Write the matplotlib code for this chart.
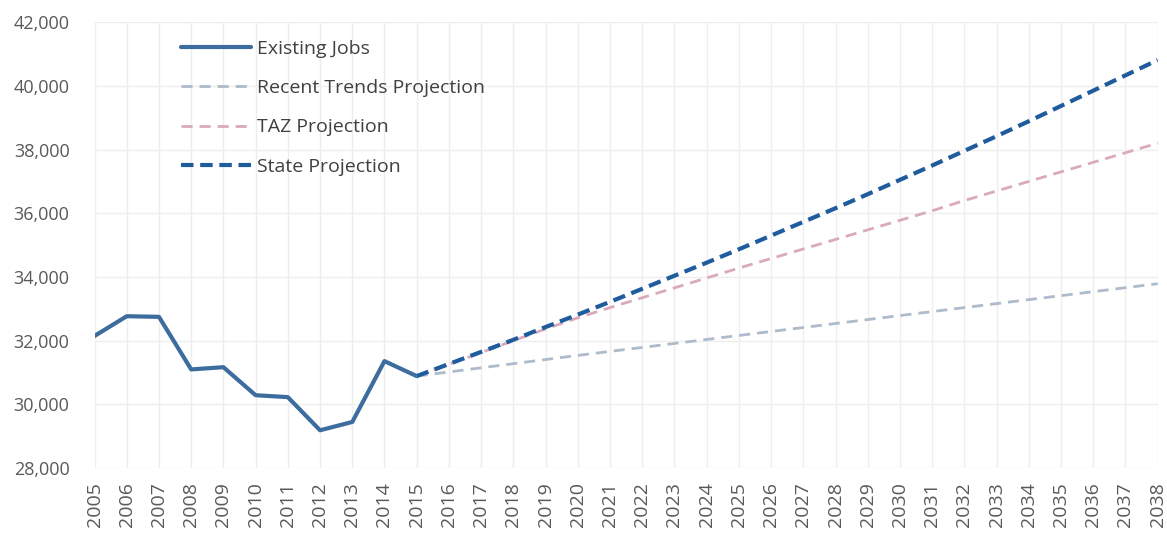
import matplotlib
matplotlib.use("Agg")
import matplotlib.pyplot as plt

plt.rcParams['font.family'] = ['Open Sans', 'DejaVu Sans']

# existing jobs, 2005-2015
hist_years = list(range(2005, 2016))
existing_jobs = [32150, 32770, 32750, 31100, 31170, 30290, 30230, 29190, 29450, 31360, 30890]

# projections, 2015-2038
proj_years = list(range(2015, 2039))
recent_trends = [30890, 31020, 31150, 31280, 31410, 31540, 31665, 31790, 31915, 32040, 32165, 32290,
                 32415, 32540, 32665, 32790, 32915, 33040, 33165, 33290, 33415, 33540, 33665, 33790]
taz_proj = [30890, 31260, 31630, 32000, 32370, 32720, 33040, 33350, 33660, 33970, 34280, 34580,
            34880, 35180, 35480, 35780, 36080, 36400, 36700, 37000, 37300, 37600, 37900, 38200]
state_proj = [30890, 31270, 31650, 32030, 32430, 32820, 33220, 33630, 34040, 34450, 34870, 35300,
              35730, 36160, 36600, 37050, 37500, 37960, 38420, 38890, 39370, 39850, 40330, 40810]

all_years = list(range(2005, 2039))

fig = plt.figure(figsize=(11.67, 5.4), dpi=100)
ax = fig.add_axes([0.081, 0.133, 0.911, 0.826])

ax.plot(hist_years, existing_jobs, color='#3D6D9E', lw=3.0, label='Existing Jobs', solid_capstyle='round')
ax.plot(proj_years, recent_trends, color='#AEBBCB', lw=2.0, ls=(0, (4, 2.5)), label='Recent Trends Projection')
ax.plot(proj_years, taz_proj, color='#D9A9BE', lw=2.0, ls=(0, (4, 2.5)), label='TAZ Projection')
ax.plot(proj_years, state_proj, color='#1F5C9E', lw=3.0, ls=(0, (3, 1.6)), label='State Projection')

ax.set_xlim(2005, 2038)
ax.set_ylim(28000, 42000)
ax.set_xticks(all_years)
ax.set_xticklabels([str(y) for y in all_years], rotation=90)
ax.set_yticks(range(28000, 42001, 2000))
ax.set_yticklabels(['{:,}'.format(v) for v in range(28000, 42001, 2000)])
ax.tick_params(axis='both', length=0, colors='#595959')
ax.tick_params(axis='x', labelsize=14, pad=10)
ax.tick_params(axis='y', labelsize=13, pad=18)
ax.grid(True, color='#EEEEEE', lw=1.0)
ax.set_axisbelow(True)
for s in ax.spines.values():
    s.set_visible(False)

leg = ax.legend(loc='upper left', bbox_to_anchor=(0.065, 1.0), frameon=False, fontsize=14,
                handlelength=3.6, labelspacing=1.1, handletextpad=0.3)
for t in leg.get_texts():
    t.set_color('#404040')

fig.savefig('out.png', dpi=100)
